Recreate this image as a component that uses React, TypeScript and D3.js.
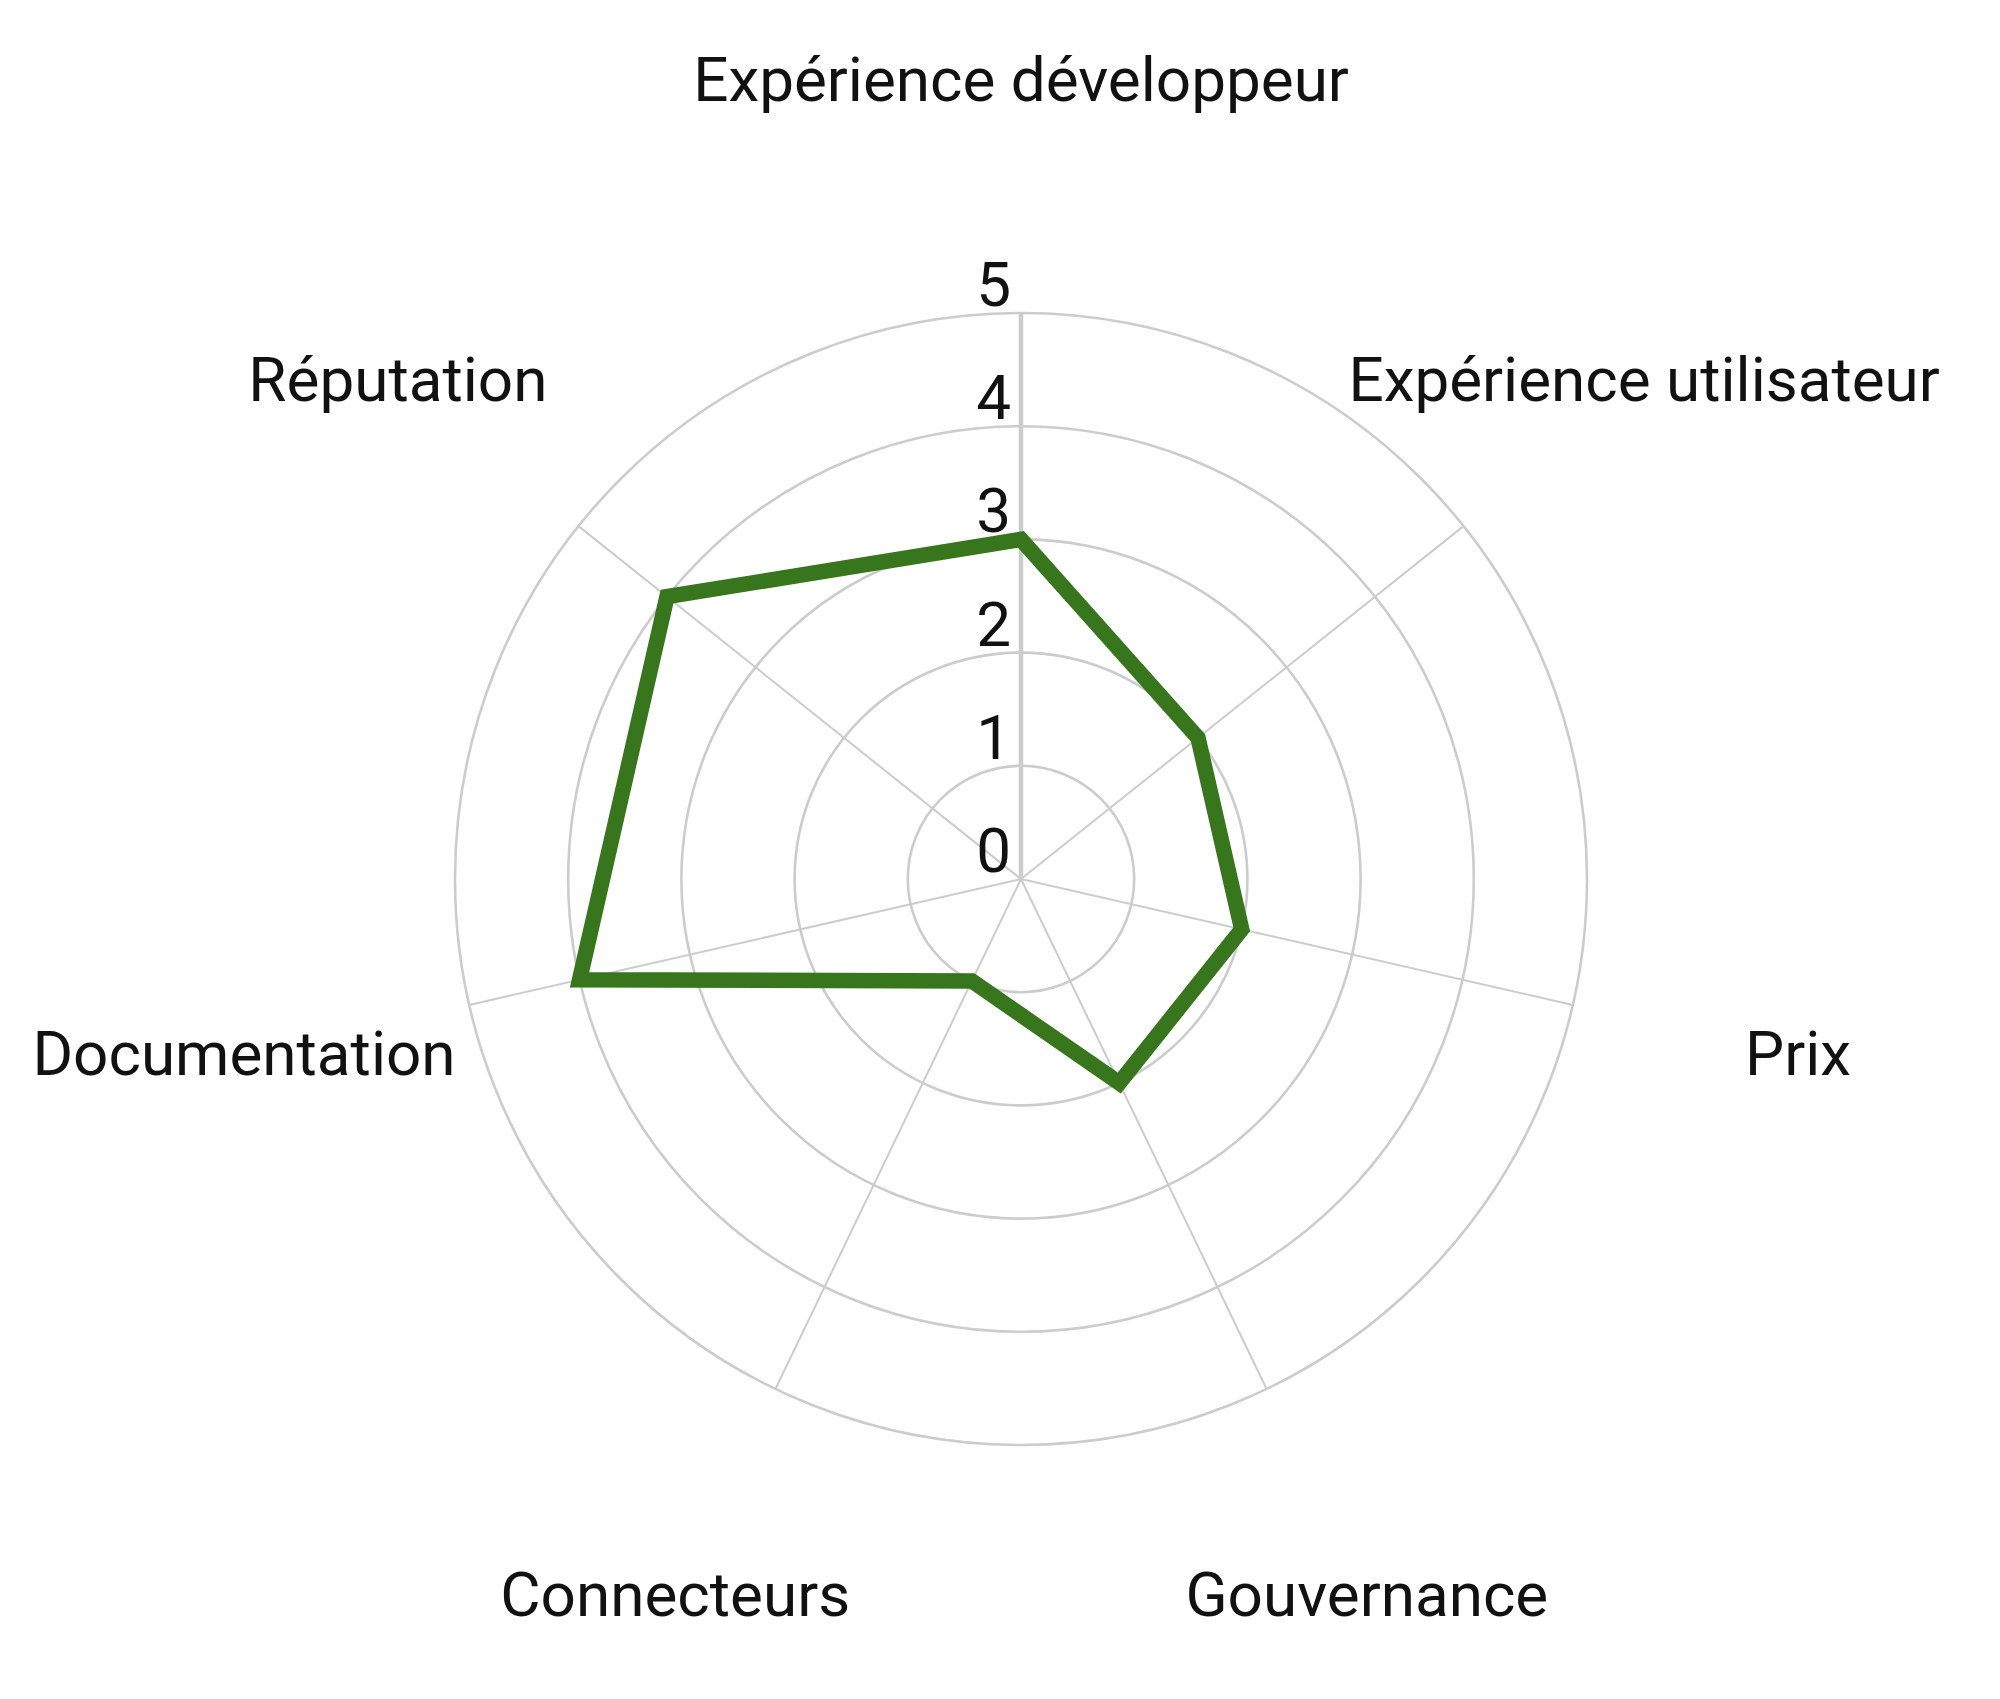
import React from "react";
import * as d3 from "d3";

const categories = [
  "Expérience développeur",
  "Expérience utilisateur",
  "Prix",
  "Gouvernance",
  "Connecteurs",
  "Documentation",
  "Réputation",
];
const values = [3, 2, 2, 2, 1, 4, 4];
const ticks = [0, 1, 2, 3, 4, 5];

const W = 2000;
const H = 1699;
const cx = 1021;
const cy = 879;
const R = 566;
const labelR = 797;
const FONT = "Roboto, 'Noto Sans', sans-serif";

export default function App() {
  const r = d3.scaleLinear().domain([0, 5]).range([0, R]);
  const angle = d3
    .scaleLinear()
    .domain([0, categories.length])
    .range([0, 2 * Math.PI]);

  const line = d3
    .lineRadial<number>()
    .angle((_, i) => angle(i))
    .radius((d) => r(d))
    .curve(d3.curveLinearClosed);

  const pt = (a: number, rad: number) => [
    Math.sin(a) * rad,
    -Math.cos(a) * rad,
  ];

  return (
    <svg
      width={W}
      height={H}
      style={{ position: "absolute", left: 0, top: 0, background: "#fff" }}
    >
      <rect x={0} y={0} width={W} height={H} fill="#ffffff" />
      <g transform={`translate(${cx},${cy})`}>
        {ticks.slice(1).map((t) => (
          <circle
            key={t}
            r={r(t)}
            fill="none"
            stroke="#cccccc"
            strokeWidth={2.6}
          />
        ))}
        {categories.map((c, i) => {
          const [x, y] = pt(angle(i), R);
          return (
            <line
              key={c}
              x1={0}
              y1={0}
              x2={x}
              y2={y}
              stroke="#cccccc"
              strokeWidth={i === 0 ? 4.5 : 2}
            />
          );
        })}
        <path
          d={line(values) || ""}
          fill="none"
          stroke="#38761d"
          strokeWidth={15.5}
          strokeLinejoin="miter"
        />
        {ticks.map((t) => (
          <text
            key={t}
            x={-10}
            y={-r(t) - 7}
            textAnchor="end"
            fontFamily={FONT}
            fontSize={62}
            fill="#111111"
          >
            {t}
          </text>
        ))}
        {categories.map((c, i) => {
          const [x, y] = pt(angle(i), labelR);
          return (
            <text
              key={c}
              x={x}
              y={y - 3}
              textAnchor="middle"
              dominantBaseline="central"
              fontFamily={FONT}
              fontSize={62}
              fill="#111111"
            >
              {c}
            </text>
          );
        })}
      </g>
    </svg>
  );
}
